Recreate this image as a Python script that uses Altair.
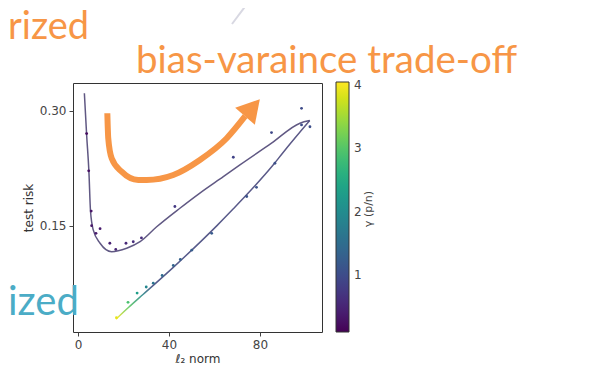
import altair as alt
import pandas as pd

# ---------------- data ----------------
# fitted curve, upper branch (gamma < 1)
upper_x = [2.8, 3.8, 4.8, 5.5, 6.7, 9.7, 14.8, 21.4, 27.3, 34.6, 44.8, 53.6, 63.9, 71.2, 85.1, 97.6, 101.9]
upper_y = [0.3227, 0.2683, 0.2204, 0.169, 0.1444, 0.127, 0.116, 0.1205, 0.129, 0.1485, 0.1727, 0.1925,
           0.2139, 0.2292, 0.2575, 0.2836, 0.287]
# fitted curve, lower branch (gamma > 1)
lower_x = [101.9, 90.2, 85.8, 77.1, 68.3, 61.0, 41.9, 28.7, 22.3, 16.7]
lower_y = [0.287, 0.2454, 0.229, 0.1996, 0.1719, 0.1497, 0.0956, 0.0605, 0.0435, 0.028]

# simulated points, coloured by gamma
pts_x = [3.8, 4.7, 5.8, 6.0, 7.9, 9.7, 14.0, 16.6, 21.1, 24.3, 27.9, 42.6, 68.3, 85.1, 98.3, 98.3, 102.0,
         86.6, 78.5, 74.2, 58.8, 50.0, 45.0, 41.9, 37.0, 33.1, 30.0, 26.0, 22.0, 16.9]
pts_y = [0.27, 0.2215, 0.169, 0.150, 0.140, 0.146, 0.127, 0.119, 0.127, 0.129, 0.134, 0.175, 0.2392, 0.2713,
         0.303, 0.2813, 0.279,
         0.2314, 0.20, 0.188, 0.14, 0.118, 0.106, 0.098, 0.085, 0.075, 0.07, 0.062, 0.05, 0.03]
pts_gamma = [0.2, 0.25, 0.3, 0.33, 0.36, 0.38, 0.45, 0.5, 0.55, 0.6, 0.63, 0.75, 0.88, 0.94, 0.98, 0.99, 1.02,
             1.05, 1.08, 1.1, 1.2, 1.25, 1.3, 1.35, 1.45, 1.6, 1.9, 2.3, 2.9, 3.9]

# orange annotation arrow (slide overlay), in data units
arrow_x = [12.9, 13.3, 14.8, 19.2, 26.5, 30.2, 41.9, 53.6, 65.4, 73.5]
arrow_y = [0.2966, 0.264, 0.2379, 0.2204, 0.2096, 0.2096, 0.2161, 0.2357, 0.264, 0.2927]
head_x = [76.7]
head_y = [0.3038]

x_ticks = [0, 40, 80]
y_ticks = [0.15, 0.30]
cbar_ticks = [1, 2, 3, 4]
X_DOM = [-2.2, 107.3]
Y_DOM = [0.0113, 0.336]
G_DOM = [0.1, 4.05]

ORANGE = "#F79646"
TEAL = "#4BACC6"

upper_df = pd.DataFrame({"x": upper_x, "y": upper_y})
lower_df = pd.DataFrame({"x": lower_x, "y": lower_y})
pts_df = pd.DataFrame({"x": pts_x, "y": pts_y, "g": pts_gamma})
arrow_df = pd.DataFrame({"x": arrow_x, "y": arrow_y})
head_df = pd.DataFrame({"x": head_x, "y": head_y})
one = pd.DataFrame({"a": [0]})

xs = alt.Scale(domain=X_DOM, nice=False, zero=False)
ys = alt.Scale(domain=Y_DOM, nice=False, zero=False)
X = alt.X("x:Q", scale=xs, axis=alt.Axis(values=x_ticks, title="ℓ₂ norm", titlePadding=3, format="d"))
Y = alt.Y("y:Q", scale=ys, axis=alt.Axis(values=y_ticks, title="test risk", format=".2f", titlePadding=4))

grad = alt.LinearGradient(
    gradient="linear", x1=0, y1=0, x2=0, y2=1,
    stops=[
        alt.GradientStop(color="#4a4679", offset=0),
        alt.GradientStop(color="#43497f", offset=0.83),
        alt.GradientStop(color="#2a8a8a", offset=0.88),
        alt.GradientStop(color="#5ec962", offset=0.94),
        alt.GradientStop(color="#fde725", offset=1),
    ],
)

line_up = alt.Chart(upper_df).mark_line(color="#4f4676", strokeWidth=1.5, opacity=0.9,
                                        interpolate="monotone").encode(x=X, y=Y)
line_lo = alt.Chart(lower_df).mark_line(color=grad, strokeWidth=1.5, opacity=0.9,
                                        interpolate="monotone").encode(x=X, y=Y)

pts = alt.Chart(pts_df).mark_circle(size=8, opacity=1).encode(
    x=X, y=Y,
    color=alt.Color("g:Q", title=None,
                    scale=alt.Scale(scheme="viridis", domain=G_DOM),
                    legend=alt.Legend(orient="none", legendX=263, legendY=-1, direction="vertical",
                                      gradientLength=250, gradientThickness=13, values=cbar_ticks,
                                      labelFont="DejaVu Sans", labelFontSize=12, labelColor="#444",
                                      labelOffset=5, gradientStrokeColor="#333", gradientStrokeWidth=1,
                                      padding=0)),
)

arrow = alt.Chart(arrow_df).mark_line(color=ORANGE, strokeWidth=6, interpolate="monotone",
                                      strokeCap="butt").encode(x=X, y=Y)
head = alt.Chart(head_df).mark_point(shape="triangle-up", filled=True, size=680, angle=41,
                                     color=ORANGE, opacity=1).encode(x=X, y=Y)

deco_line = alt.Chart(one).mark_rule(color="#d8d8e2", strokeWidth=2).encode(
    x=alt.value(159), y=alt.value(-59), x2=alt.value(177), y2=alt.value(-83))

def slide_text(txt, px, py, color, size):
    return alt.Chart(one).mark_text(text=txt, font="Lato", fontSize=size, color=color,
                                    align="left", baseline="alphabetic").encode(
        x=alt.value(px), y=alt.value(py))

t1 = slide_text("rized", -65, -44, ORANGE, 38)
t2 = slide_text("bias-varaince trade-off", 63, -10, ORANGE, 38.5)
t3 = slide_text("ized", -65, 232, TEAL, 40)

cbar_title = alt.Chart(one).mark_text(text="γ (p/n)", angle=270, font="DejaVu Sans", fontSize=11,
                                      color="#444").encode(x=alt.value(296), y=alt.value(126))

chart = alt.layer(line_up, line_lo, pts, deco_line, arrow, head, t1, t2, t3, cbar_title).properties(
    width=249, height=249,
    padding={"left": 65, "top": 75, "right": 267, "bottom": 33},
    autosize=alt.AutoSizeParams(type="none"),
).configure_view(stroke="#333", strokeWidth=1).configure_axis(
    labelFont="DejaVu Sans", labelFontSize=12, labelColor="#444",
    titleFont="DejaVu Sans", titleFontSize=12, titleColor="#333", titleFontWeight="normal",
    tickColor="#444", tickSize=4, domain=False, grid=False, labelPadding=3,
)

chart.save("out.html", embed_options={"renderer": "svg", "actions": False})
